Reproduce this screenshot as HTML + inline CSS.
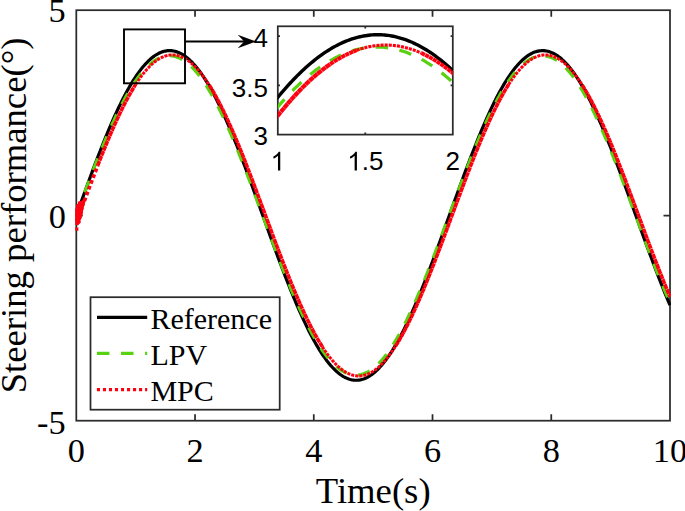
<!DOCTYPE html>
<html><head><meta charset="utf-8"><title>chart</title>
<style>
html,body{margin:0;padding:0;background:#fff;}
body{width:685px;height:511px;overflow:hidden;}
svg{display:block;}
.serif{font-family:"Liberation Serif",serif;}
.sans{font-family:"Liberation Sans",sans-serif;}
</style></head><body>
<svg width="685" height="511" viewBox="0 0 685 511">
<rect width="685" height="511" fill="#fff"/>
<defs>
<clipPath id="cm"><rect x="75.3" y="9.2" width="595.7" height="412.5"/></clipPath>
<clipPath id="ci"><rect x="277.8" y="26.3" width="175.0" height="108.3"/></clipPath>
</defs>
<!-- main axes -->
<g fill="none" stroke="#2b2b2b" stroke-width="1.75">
<rect x="76.3" y="10.2" width="593.7" height="410.5"/>
<path d="M195.04,420.7 V414.2 M195.04,10.2 V16.7"/><path d="M313.78,420.7 V414.2 M313.78,10.2 V16.7"/><path d="M432.52,420.7 V414.2 M432.52,10.2 V16.7"/><path d="M551.26,420.7 V414.2 M551.26,10.2 V16.7"/><path d="M76.3,215.70 H82.8 M670.0,215.70 H663.5"/>
</g>
<!-- main curves -->
<g fill="none" stroke-linejoin="round" clip-path="url(#cm)">
<path d="M76.30,215.45 L77.49,212.15 L78.67,208.86 L79.86,205.57 L81.05,202.28 L82.24,199.00 L83.42,195.72 L84.61,192.45 L85.80,189.19 L86.99,185.94 L88.17,182.71 L89.36,179.48 L90.55,176.27 L91.74,173.08 L92.92,169.90 L94.11,166.74 L95.30,163.60 L96.49,160.49 L97.67,157.39 L98.86,154.32 L100.05,151.27 L101.24,148.24 L102.42,145.25 L103.61,142.28 L104.80,139.34 L105.98,136.43 L107.17,133.56 L108.36,130.71 L109.55,127.90 L110.73,125.13 L111.92,122.39 L113.11,119.69 L114.30,117.02 L115.48,114.40 L116.67,111.82 L117.86,109.27 L119.05,106.77 L120.23,104.32 L121.42,101.90 L122.61,99.54 L123.80,97.22 L124.98,94.95 L126.17,92.72 L127.36,90.55 L128.55,88.42 L129.73,86.35 L130.92,84.32 L132.11,82.35 L133.30,80.43 L134.48,78.57 L135.67,76.76 L136.86,75.01 L138.04,73.31 L139.23,71.67 L140.42,70.09 L141.61,68.56 L142.79,67.10 L143.98,65.69 L145.17,64.35 L146.36,63.06 L147.54,61.84 L148.73,60.67 L149.92,59.57 L151.11,58.53 L152.29,57.55 L153.48,56.64 L154.67,55.79 L155.86,55.00 L157.04,54.28 L158.23,53.63 L159.42,53.03 L160.61,52.50 L161.79,52.04 L162.98,51.64 L164.17,51.31 L165.36,51.05 L166.54,50.85 L167.73,50.71 L168.92,50.64 L170.10,50.64 L171.29,50.70 L172.48,50.83 L173.67,51.03 L174.85,51.29 L176.04,51.62 L177.23,52.01 L178.42,52.47 L179.60,52.99 L180.79,53.58 L181.98,54.23 L183.17,54.94 L184.35,55.73 L185.54,56.57 L186.73,57.48 L187.92,58.45 L189.10,59.48 L190.29,60.58 L191.48,61.74 L192.67,62.96 L193.85,64.24 L195.04,65.58 L196.23,66.99 L197.41,68.45 L198.60,69.97 L199.79,71.54 L200.98,73.18 L202.16,74.87 L203.35,76.62 L204.54,78.42 L205.73,80.28 L206.91,82.20 L208.10,84.16 L209.29,86.18 L210.48,88.25 L211.66,90.37 L212.85,92.55 L214.04,94.77 L215.23,97.04 L216.41,99.35 L217.60,101.71 L218.79,104.12 L219.98,106.58 L221.16,109.07 L222.35,111.61 L223.54,114.19 L224.73,116.81 L225.91,119.47 L227.10,122.17 L228.29,124.91 L229.47,127.68 L230.66,130.49 L231.85,133.33 L233.04,136.20 L234.22,139.11 L235.41,142.05 L236.60,145.01 L237.79,148.01 L238.97,151.03 L240.16,154.07 L241.35,157.14 L242.54,160.24 L243.72,163.36 L244.91,166.49 L246.10,169.65 L247.29,172.83 L248.47,176.02 L249.66,179.23 L250.85,182.45 L252.04,185.68 L253.22,188.93 L254.41,192.19 L255.60,195.46 L256.78,198.73 L257.97,202.02 L259.16,205.30 L260.35,208.60 L261.53,211.89 L262.72,215.19 L263.91,218.48 L265.10,221.78 L266.28,225.07 L267.47,228.36 L268.66,231.64 L269.85,234.92 L271.03,238.19 L272.22,241.45 L273.41,244.70 L274.60,247.94 L275.78,251.16 L276.97,254.37 L278.16,257.57 L279.35,260.75 L280.53,263.91 L281.72,267.05 L282.91,270.17 L284.10,273.26 L285.28,276.34 L286.47,279.39 L287.66,282.42 L288.84,285.41 L290.03,288.38 L291.22,291.33 L292.41,294.24 L293.59,297.12 L294.78,299.96 L295.97,302.78 L297.16,305.55 L298.34,308.30 L299.53,311.00 L300.72,313.67 L301.91,316.29 L303.09,318.88 L304.28,321.43 L305.47,323.93 L306.66,326.39 L307.84,328.80 L309.03,331.17 L310.22,333.50 L311.41,335.78 L312.59,338.00 L313.78,340.18 L314.97,342.31 L316.15,344.39 L317.34,346.42 L318.53,348.39 L319.72,350.31 L320.90,352.18 L322.09,354.00 L323.28,355.75 L324.47,357.45 L325.65,359.10 L326.84,360.69 L328.03,362.22 L329.22,363.69 L330.40,365.10 L331.59,366.45 L332.78,367.74 L333.97,368.97 L335.15,370.14 L336.34,371.24 L337.53,372.29 L338.72,373.27 L339.90,374.19 L341.09,375.04 L342.28,375.84 L343.47,376.56 L344.65,377.22 L345.84,377.82 L347.03,378.36 L348.21,378.82 L349.40,379.23 L350.59,379.56 L351.78,379.83 L352.96,380.04 L354.15,380.18 L355.34,380.25 L356.53,380.26 L357.71,380.20 L358.90,380.08 L360.09,379.89 L361.28,379.63 L362.46,379.31 L363.65,378.93 L364.84,378.47 L366.03,377.96 L367.21,377.37 L368.40,376.73 L369.59,376.01 L370.78,375.24 L371.96,374.40 L373.15,373.50 L374.34,372.53 L375.52,371.50 L376.71,370.41 L377.90,369.25 L379.09,368.04 L380.27,366.76 L381.46,365.43 L382.65,364.03 L383.84,362.57 L385.02,361.06 L386.21,359.48 L387.40,357.85 L388.59,356.16 L389.77,354.42 L390.96,352.62 L392.15,350.77 L393.34,348.86 L394.52,346.90 L395.71,344.88 L396.90,342.81 L398.09,340.70 L399.27,338.53 L400.46,336.31 L401.65,334.05 L402.84,331.73 L404.02,329.38 L405.21,326.97 L406.40,324.52 L407.58,322.03 L408.77,319.49 L409.96,316.92 L411.15,314.30 L412.33,311.64 L413.52,308.94 L414.71,306.21 L415.90,303.44 L417.08,300.64 L418.27,297.80 L419.46,294.93 L420.65,292.02 L421.83,289.09 L423.02,286.13 L424.21,283.13 L425.40,280.12 L426.58,277.07 L427.77,274.00 L428.96,270.91 L430.15,267.79 L431.33,264.66 L432.52,261.50 L433.71,258.33 L434.89,255.14 L436.08,251.93 L437.27,248.71 L438.46,245.47 L439.64,242.23 L440.83,238.97 L442.02,235.70 L443.21,232.43 L444.39,229.14 L445.58,225.86 L446.77,222.57 L447.96,219.27 L449.14,215.97 L450.33,212.68 L451.52,209.38 L452.71,206.09 L453.89,202.80 L455.08,199.52 L456.27,196.24 L457.46,192.97 L458.64,189.71 L459.83,186.46 L461.02,183.22 L462.21,179.99 L463.39,176.78 L464.58,173.59 L465.77,170.41 L466.95,167.25 L468.14,164.10 L469.33,160.98 L470.52,157.88 L471.70,154.80 L472.89,151.75 L474.08,148.72 L475.27,145.72 L476.45,142.75 L477.64,139.81 L478.83,136.89 L480.02,134.01 L481.20,131.16 L482.39,128.35 L483.58,125.57 L484.77,122.82 L485.95,120.11 L487.14,117.44 L488.33,114.81 L489.52,112.22 L490.70,109.67 L491.89,107.17 L493.08,104.70 L494.26,102.29 L495.45,99.91 L496.64,97.58 L497.83,95.30 L499.01,93.07 L500.20,90.89 L501.39,88.76 L502.58,86.67 L503.76,84.64 L504.95,82.66 L506.14,80.74 L507.33,78.86 L508.51,77.05 L509.70,75.28 L510.89,73.58 L512.08,71.93 L513.26,70.34 L514.45,68.80 L515.64,67.33 L516.83,65.91 L518.01,64.56 L519.20,63.26 L520.39,62.03 L521.57,60.85 L522.76,59.74 L523.95,58.69 L525.14,57.71 L526.32,56.78 L527.51,55.92 L528.70,55.13 L529.89,54.39 L531.07,53.73 L532.26,53.12 L533.45,52.58 L534.64,52.11 L535.82,51.70 L537.01,51.36 L538.20,51.09 L539.39,50.87 L540.57,50.73 L541.76,50.65 L542.95,50.64 L544.14,50.69 L545.32,50.81 L546.51,50.99 L547.70,51.24 L548.89,51.56 L550.07,51.94 L551.26,52.39 L552.45,52.90 L553.63,53.48 L554.82,54.12 L556.01,54.83 L557.20,55.60 L558.38,56.43 L559.57,57.33 L560.76,58.29 L561.95,59.32 L563.13,60.40 L564.32,61.55 L565.51,62.76 L566.70,64.03 L567.88,65.37 L569.07,66.76 L570.26,68.21 L571.45,69.72 L572.63,71.29 L573.82,72.92 L575.01,74.60 L576.20,76.34 L577.38,78.13 L578.57,79.98 L579.76,81.89 L580.95,83.85 L582.13,85.86 L583.32,87.92 L584.51,90.03 L585.69,92.20 L586.88,94.41 L588.07,96.67 L589.26,98.98 L590.44,101.34 L591.63,103.74 L592.82,106.18 L594.01,108.67 L595.19,111.20 L596.38,113.78 L597.57,116.39 L598.76,119.05 L599.94,121.74 L601.13,124.47 L602.32,127.24 L603.51,130.04 L604.69,132.87 L605.88,135.74 L607.07,138.64 L608.26,141.58 L609.44,144.54 L610.63,147.53 L611.82,150.54 L613.00,153.59 L614.19,156.65 L615.38,159.74 L616.57,162.86 L617.75,165.99 L618.94,169.15 L620.13,172.32 L621.32,175.51 L622.50,178.71 L623.69,181.93 L624.88,185.17 L626.07,188.41 L627.25,191.67 L628.44,194.94 L629.63,198.21 L630.82,201.49 L632.00,204.78 L633.19,208.07 L634.38,211.37 L635.57,214.66 L636.75,217.96 L637.94,221.25 L639.13,224.55 L640.32,227.84 L641.50,231.12 L642.69,234.40 L643.88,237.67 L645.06,240.93 L646.25,244.18 L647.44,247.42 L648.63,250.65 L649.81,253.86 L651.00,257.06 L652.19,260.24 L653.38,263.40 L654.56,266.55 L655.75,269.67 L656.94,272.77 L658.13,275.85 L659.31,278.91 L660.50,281.94 L661.69,284.94 L662.88,287.91 L664.06,290.86 L665.25,293.77 L666.44,296.66 L667.63,299.51 L668.81,302.33 L670.00,305.11" stroke="#000" stroke-width="3.2"/>
<path d="M76.30,214.81 L77.49,211.62 L78.67,208.43 L79.86,205.24 L81.05,202.05 L82.24,198.87 L83.42,195.70 L84.61,192.53 L85.80,189.38 L86.99,186.23 L88.17,183.10 L89.36,179.98 L90.55,176.87 L91.74,173.78 L92.92,170.71 L94.11,167.65 L95.30,164.61 L96.49,161.60 L97.67,158.60 L98.86,155.63 L100.05,152.68 L101.24,149.75 L102.42,146.86 L103.61,143.99 L104.80,141.15 L105.98,138.33 L107.17,135.55 L108.36,132.80 L109.55,130.09 L110.73,127.41 L111.92,124.76 L113.11,122.15 L114.30,119.58 L115.48,117.04 L116.67,114.55 L117.86,112.09 L119.05,109.68 L120.23,107.31 L121.42,104.98 L122.61,102.69 L123.80,100.46 L124.98,98.26 L126.17,96.12 L127.36,94.02 L128.55,91.97 L129.73,89.97 L130.92,88.02 L132.11,86.12 L133.30,84.27 L134.48,82.48 L135.67,80.74 L136.86,79.05 L138.04,77.42 L139.23,75.84 L140.42,74.32 L141.61,72.85 L142.79,71.44 L143.98,70.09 L145.17,68.80 L146.36,67.56 L147.54,66.39 L148.73,65.27 L149.92,64.22 L151.11,63.22 L152.29,62.29 L153.48,61.42 L154.67,60.60 L155.86,59.85 L157.04,59.17 L158.23,58.54 L159.42,57.98 L160.61,57.48 L161.79,57.05 L162.98,56.68 L164.17,56.37 L165.36,56.12 L166.54,55.94 L167.73,55.82 L168.92,55.77 L170.10,55.78 L171.29,55.85 L172.48,55.99 L173.67,56.19 L174.85,56.46 L176.04,56.79 L177.23,57.18 L178.42,57.64 L179.60,58.15 L180.79,58.74 L181.98,59.38 L183.17,60.09 L184.35,60.86 L185.54,61.69 L186.73,62.58 L187.92,63.53 L189.10,64.55 L190.29,65.62 L191.48,66.76 L192.67,67.95 L193.85,69.20 L195.04,70.52 L196.23,71.89 L197.41,73.31 L198.60,74.80 L199.79,76.34 L200.98,77.93 L202.16,79.58 L203.35,81.29 L204.54,83.05 L205.73,84.86 L206.91,86.72 L208.10,88.64 L209.29,90.60 L210.48,92.62 L211.66,94.69 L212.85,96.80 L214.04,98.96 L215.23,101.17 L216.41,103.42 L217.60,105.72 L218.79,108.06 L219.98,110.45 L221.16,112.87 L222.35,115.34 L223.54,117.85 L224.73,120.40 L225.91,122.98 L227.10,125.60 L228.29,128.26 L229.47,130.95 L230.66,133.68 L231.85,136.44 L233.04,139.23 L234.22,142.05 L235.41,144.90 L236.60,147.78 L237.79,150.69 L238.97,153.62 L240.16,156.58 L241.35,159.56 L242.54,162.56 L243.72,165.58 L244.91,168.63 L246.10,171.69 L247.29,174.77 L248.47,177.87 L249.66,180.98 L250.85,184.10 L252.04,187.24 L253.22,190.39 L254.41,193.55 L255.60,196.72 L256.78,199.89 L257.97,203.07 L259.16,206.26 L260.35,209.45 L261.53,212.64 L262.72,215.83 L263.91,219.03 L265.10,222.22 L266.28,225.41 L267.47,228.59 L268.66,231.77 L269.85,234.95 L271.03,238.11 L272.22,241.27 L273.41,244.42 L274.60,247.55 L275.78,250.67 L276.97,253.78 L278.16,256.87 L279.35,259.95 L280.53,263.01 L281.72,266.05 L282.91,269.06 L284.10,272.06 L285.28,275.04 L286.47,277.99 L287.66,280.91 L288.84,283.81 L290.03,286.69 L291.22,289.53 L292.41,292.34 L293.59,295.13 L294.78,297.88 L295.97,300.60 L297.16,303.28 L298.34,305.93 L299.53,308.54 L300.72,311.12 L301.91,313.66 L303.09,316.16 L304.28,318.62 L305.47,321.03 L306.66,323.41 L307.84,325.74 L309.03,328.03 L310.22,330.27 L311.41,332.46 L312.59,334.61 L313.78,336.72 L314.97,338.77 L316.15,340.77 L317.34,342.73 L318.53,344.63 L319.72,346.48 L320.90,348.28 L322.09,350.03 L323.28,351.72 L324.47,353.36 L325.65,354.94 L326.84,356.47 L328.03,357.94 L329.22,359.35 L330.40,360.70 L331.59,362.00 L332.78,363.24 L333.97,364.42 L335.15,365.54 L336.34,366.60 L337.53,367.60 L338.72,368.54 L339.90,369.42 L341.09,370.23 L342.28,370.99 L343.47,371.68 L344.65,372.31 L345.84,372.88 L347.03,373.38 L348.21,373.82 L349.40,374.20 L350.59,374.51 L351.78,374.76 L352.96,374.95 L354.15,375.07 L355.34,375.13 L356.53,375.12 L357.71,375.05 L358.90,374.92 L360.09,374.73 L361.28,374.46 L362.46,374.14 L363.65,373.75 L364.84,373.30 L366.03,372.79 L367.21,372.21 L368.40,371.57 L369.59,370.87 L370.78,370.11 L371.96,369.28 L373.15,368.39 L374.34,367.44 L375.52,366.43 L376.71,365.36 L377.90,364.24 L379.09,363.05 L380.27,361.80 L381.46,360.49 L382.65,359.13 L383.84,357.70 L385.02,356.22 L386.21,354.69 L387.40,353.10 L388.59,351.45 L389.77,349.75 L390.96,348.00 L392.15,346.19 L393.34,344.33 L394.52,342.42 L395.71,340.45 L396.90,338.44 L398.09,336.38 L399.27,334.27 L400.46,332.11 L401.65,329.91 L402.84,327.66 L404.02,325.37 L405.21,323.03 L406.40,320.65 L407.58,318.22 L408.77,315.76 L409.96,313.25 L411.15,310.71 L412.33,308.13 L413.52,305.51 L414.71,302.85 L415.90,300.16 L417.08,297.44 L418.27,294.68 L419.46,291.89 L420.65,289.07 L421.83,286.23 L423.02,283.35 L424.21,280.44 L425.40,277.51 L426.58,274.56 L427.77,271.58 L428.96,268.58 L430.15,265.56 L431.33,262.52 L432.52,259.45 L433.71,256.38 L434.89,253.28 L436.08,250.17 L437.27,247.05 L438.46,243.91 L439.64,240.76 L440.83,237.60 L442.02,234.44 L443.21,231.26 L444.39,228.08 L445.58,224.90 L446.77,221.71 L447.96,218.51 L449.14,215.32 L450.33,212.13 L451.52,208.93 L452.71,205.74 L453.89,202.56 L455.08,199.38 L456.27,196.20 L457.46,193.04 L458.64,189.88 L459.83,186.73 L461.02,183.60 L462.21,180.48 L463.39,177.37 L464.58,174.27 L465.77,171.20 L466.95,168.14 L468.14,165.10 L469.33,162.07 L470.52,159.08 L471.70,156.10 L472.89,153.15 L474.08,150.22 L475.27,147.32 L476.45,144.44 L477.64,141.60 L478.83,138.78 L480.02,135.99 L481.20,133.24 L482.39,130.52 L483.58,127.83 L484.77,125.18 L485.95,122.56 L487.14,119.98 L488.33,117.44 L489.52,114.94 L490.70,112.48 L491.89,110.06 L493.08,107.68 L494.26,105.35 L495.45,103.05 L496.64,100.81 L497.83,98.61 L499.01,96.46 L500.20,94.35 L501.39,92.29 L502.58,90.28 L503.76,88.33 L504.95,86.42 L506.14,84.56 L507.33,82.76 L508.51,81.01 L509.70,79.31 L510.89,77.67 L512.08,76.08 L513.26,74.55 L514.45,73.08 L515.64,71.66 L516.83,70.30 L518.01,69.00 L519.20,67.76 L520.39,66.57 L521.57,65.45 L522.76,64.38 L523.95,63.38 L525.14,62.43 L526.32,61.55 L527.51,60.73 L528.70,59.97 L529.89,59.27 L531.07,58.64 L532.26,58.07 L533.45,57.56 L534.64,57.11 L535.82,56.73 L537.01,56.41 L538.20,56.16 L539.39,55.96 L540.57,55.84 L541.76,55.77 L542.95,55.77 L544.14,55.84 L545.32,55.97 L546.51,56.16 L547.70,56.41 L548.89,56.73 L550.07,57.11 L551.26,57.56 L552.45,58.07 L553.63,58.64 L554.82,59.27 L556.01,59.97 L557.20,60.73 L558.38,61.55 L559.57,62.43 L560.76,63.38 L561.95,64.38 L563.13,65.45 L564.32,66.57 L565.51,67.76 L566.70,69.00 L567.88,70.30 L569.07,71.66 L570.26,73.08 L571.45,74.56 L572.63,76.09 L573.82,77.67 L575.01,79.32 L576.20,81.01 L577.38,82.76 L578.57,84.57 L579.76,86.42 L580.95,88.33 L582.13,90.29 L583.32,92.30 L584.51,94.35 L585.69,96.46 L586.88,98.61 L588.07,100.81 L589.26,103.06 L590.44,105.35 L591.63,107.68 L592.82,110.06 L594.01,112.48 L595.19,114.94 L596.38,117.45 L597.57,119.99 L598.76,122.57 L599.94,125.18 L601.13,127.84 L602.32,130.52 L603.51,133.24 L604.69,136.00 L605.88,138.78 L607.07,141.60 L608.26,144.45 L609.44,147.32 L610.63,150.22 L611.82,153.15 L613.00,156.10 L614.19,159.08 L615.38,162.08 L616.57,165.10 L617.75,168.14 L618.94,171.20 L620.13,174.28 L621.32,177.37 L622.50,180.48 L623.69,183.60 L624.88,186.74 L626.07,189.89 L627.25,193.04 L628.44,196.21 L629.63,199.38 L630.82,202.57 L632.00,205.75 L633.19,208.94 L634.38,212.13 L635.57,215.33 L636.75,218.52 L637.94,221.71 L639.13,224.90 L640.32,228.09 L641.50,231.27 L642.69,234.44 L643.88,237.61 L645.06,240.77 L646.25,243.92 L647.44,247.05 L648.63,250.18 L649.81,253.29 L651.00,256.38 L652.19,259.46 L653.38,262.52 L654.56,265.56 L655.75,268.59 L656.94,271.59 L658.13,274.56 L659.31,277.52 L660.50,280.45 L661.69,283.35 L662.88,286.23 L664.06,289.08 L665.25,291.90 L666.44,294.69 L667.63,297.44 L668.81,300.17 L670.00,302.86" stroke="#58d110" stroke-width="3.2" stroke-dasharray="12.43 11.52"/>
<path d="M75,225 L74.8,210 L76.3,205.5 L79.5,202 L83,200 L85.5,201.5 L83.6,208 L82.6,214 L80.4,221 L78.3,225.3 Z" fill="#ff0010" stroke="none"/>
<path d="M76.20,224.00 L79.00,222.00 L76.20,219.50 L80.00,217.50 L76.20,215.00 L81.00,213.00 L76.30,210.50 L82.00,208.50 L77.50,206.00 L83.00,204.50 L79.50,203.00 L84.00,201.80" stroke="#ff0010" stroke-width="3.4"/>
<path d="M76.5,227.4 V230.8" stroke="#ff0010" stroke-width="3.8"/>
<path d="M84.31,201.02 L84.78,199.78 L85.24,198.55 L85.70,197.31 L86.16,196.07 L86.62,194.84 L87.08,193.60 L87.54,192.37 L88.00,191.14 L88.46,189.91 L88.92,188.68 L89.38,187.45 L89.84,186.22 L90.30,185.00 L90.76,183.78 L91.22,182.56 L91.69,181.34 L92.15,180.13 L92.61,178.91 L93.07,177.70 L93.53,176.49 L93.99,175.28 L94.45,174.08 L94.91,172.88 L95.37,171.68 L95.83,170.48 L96.29,169.29 L96.75,168.10 L97.21,166.91 L97.67,165.72" stroke="#ff0010" stroke-width="3.7" stroke-dasharray="3.7 2.5"/>
<path d="M97.67,165.72 L97.97,164.96 L98.27,164.20 L98.56,163.44 L98.86,162.68 L99.16,161.93 L99.45,161.17 L99.75,160.42 L100.05,159.66 L100.34,158.91 L100.64,158.16 L100.94,157.41 L101.23,156.67 L101.53,155.92 L101.83,155.18 L102.12,154.43 L102.42,153.69 L102.72,152.95 L103.01,152.21 L103.31,151.48 L103.61,150.74 L103.90,150.01 L104.20,149.28 L104.50,148.55 L104.79,147.82 L105.09,147.09 L105.39,146.37 L105.68,145.65 L105.98,144.92 L106.28,144.20 L106.57,143.49 L106.87,142.77 L107.17,142.06 L107.46,141.34 L107.76,140.63 L108.06,139.92 L108.35,139.22 L108.65,138.51 L108.95,137.81 L109.24,137.11 L109.54,136.41 L109.84,135.71 L110.13,135.02 L110.43,134.32 L110.73,133.63 L111.02,132.94 L111.32,132.26 L111.62,131.57 L111.91,130.89 L112.21,130.21 L112.51,129.53 L112.80,128.85 L113.10,128.18 L113.40,127.51 L113.69,126.84 L113.99,126.17 L114.29,125.50 L114.58,124.84 L114.88,124.18 L115.18,123.52 L115.47,122.87 L115.77,122.21 L116.07,121.56 L116.37,120.91 L116.66,120.26 L116.96,119.62 L117.26,118.98 L117.55,118.34 L117.85,117.70 L118.15,117.06 L118.44,116.43 L118.74,115.80 L119.04,115.17 L119.33,114.55 L119.63,113.93 L119.93,113.31 L120.22,112.69 L120.52,112.07 L120.82,111.46 L121.11,110.85 L121.41,110.24 L121.71,109.64 L122.00,109.04 L122.30,108.44 L122.60,107.84 L122.89,107.25 L123.19,106.66 L123.49,106.07 L123.78,105.48 L124.08,104.90 L124.38,104.32 L124.67,103.74 L124.97,103.17 L125.27,102.60 L125.56,102.03 L125.86,101.46 L126.16,100.90 L126.45,100.34 L126.75,99.78 L127.05,99.23 L127.34,98.67 L127.64,98.13 L127.94,97.58 L128.23,97.04 L128.53,96.50 L128.83,95.96 L129.12,95.43 L129.42,94.89 L129.72,94.37 L130.01,93.84 L130.31,93.32 L130.61,92.80 L130.90,92.28 L131.20,91.77 L131.50,91.26 L131.79,90.76 L132.09,90.25 L132.39,89.75 L132.68,89.25 L132.98,88.76 L133.28,88.27 L133.57,87.78 L133.87,87.30 L134.17,86.82 L134.46,86.34 L134.76,85.86 L135.06,85.39 L135.35,84.92 L135.65,84.46 M209.23,85.12 L209.53,85.59 L209.82,86.06 L210.12,86.54 L210.42,87.02 L210.71,87.50 L211.01,87.99 L211.31,88.48 L211.60,88.97 L211.90,89.46 L212.20,89.96 L212.49,90.46 L212.79,90.97 L213.09,91.48 L213.38,91.99 L213.68,92.50 L213.98,93.02 L214.27,93.54 L214.57,94.06 L214.87,94.59 L215.16,95.12 L215.46,95.65 L215.76,96.19 L216.05,96.72 L216.35,97.27 L216.65,97.81 L216.95,98.36 L217.24,98.91 L217.54,99.46 L217.84,100.02 L218.13,100.57 L218.43,101.14 L218.73,101.70 L219.02,102.27 L219.32,102.84 L219.62,103.41 L219.91,103.99 L220.21,104.56 L220.51,105.15 L220.80,105.73 L221.10,106.32 L221.40,106.91 L221.69,107.50 L221.99,108.09 L222.29,108.69 L222.58,109.29 L222.88,109.89 L223.18,110.50 L223.47,111.11 L223.77,111.72 L224.07,112.33 L224.36,112.95 L224.66,113.57 L224.96,114.19 L225.25,114.81 L225.55,115.44 L225.85,116.07 L226.14,116.70 L226.44,117.33 L226.74,117.97 L227.03,118.61 L227.33,119.25 L227.63,119.89 L227.92,120.54 L228.22,121.18 L228.52,121.83 L228.81,122.49 L229.11,123.14 L229.41,123.80 L229.70,124.46 L230.00,125.12 L230.30,125.78 L230.59,126.45 L230.89,127.12 L231.19,127.79 L231.48,128.46 L231.78,129.14 L232.08,129.82 L232.37,130.50 L232.67,131.18 L232.97,131.86 L233.26,132.55 L233.56,133.23 L233.86,133.92 L234.15,134.62 L234.45,135.31 L234.75,136.01 L235.04,136.70 L235.34,137.40 L235.64,138.11 L235.93,138.81 L236.23,139.52 L236.53,140.22 L236.82,140.93 L237.12,141.64 L237.42,142.36 L237.71,143.07 L238.01,143.79 L238.31,144.51 L238.60,145.23 L238.90,145.95 L239.20,146.67 L239.49,147.40 L239.79,148.13 L240.09,148.86 L240.38,149.59 L240.68,150.32 L240.98,151.05 L241.27,151.79 L241.57,152.53 L241.87,153.26 L242.16,154.00 L242.46,154.75 L242.76,155.49 L243.05,156.23 L243.35,156.98 L243.65,157.73 L243.94,158.48 L244.24,159.23 L244.54,159.98 L244.83,160.73 L245.13,161.49 L245.43,162.24 L245.72,163.00 L246.02,163.76 L246.32,164.52 L246.61,165.28 L246.91,166.04 L247.21,166.81 L247.50,167.57 L247.80,168.34 L248.10,169.11 L248.39,169.87 L248.69,170.64 L248.99,171.42 L249.28,172.19 L249.58,172.96 L249.88,173.73 L250.18,174.51 L250.47,175.29 L250.77,176.06 L251.07,176.84 L251.36,177.62 L251.66,178.40 L251.96,179.18 L252.25,179.96 L252.55,180.74 L252.85,181.53 L253.14,182.31 L253.44,183.10 L253.74,183.88 L254.03,184.67 L254.33,185.46 L254.63,186.25 L254.92,187.04 L255.22,187.83 L255.52,188.62 L255.81,189.41 L256.11,190.20 L256.41,190.99 L256.70,191.78 L257.00,192.58 L257.30,193.37 L257.59,194.17 L257.89,194.96 L258.19,195.76 L258.48,196.55 L258.78,197.35 L259.08,198.15 L259.37,198.95 L259.67,199.74 L259.97,200.54 L260.26,201.34 L260.56,202.14 L260.86,202.94 L261.15,203.74 L261.45,204.54 L261.75,205.34 L262.04,206.14 L262.34,206.94 L262.64,207.74 L262.93,208.54 L263.23,209.35 L263.53,210.15 L263.82,210.95 L264.12,211.75 L264.42,212.55 L264.71,213.36 L265.01,214.16 L265.31,214.96 L265.60,215.76 L265.90,216.56 L266.20,217.37 L266.49,218.17 L266.79,218.97 L267.09,219.77 L267.38,220.57 L267.68,221.37 L267.98,222.18 L268.27,222.98 L268.57,223.78 L268.87,224.58 L269.16,225.38 L269.46,226.18 L269.76,226.98 L270.05,227.78 L270.35,228.58 L270.65,229.38 L270.94,230.18 L271.24,230.98 L271.54,231.78 L271.83,232.57 L272.13,233.37 L272.43,234.17 L272.72,234.96 L273.02,235.76 L273.32,236.56 L273.61,237.35 L273.91,238.14 L274.21,238.94 L274.50,239.73 L274.80,240.52 L275.10,241.32 L275.39,242.11 L275.69,242.90 L275.99,243.69 L276.28,244.48 L276.58,245.27 L276.88,246.05 L277.17,246.84 L277.47,247.63 L277.77,248.41 L278.06,249.20 L278.36,249.98 L278.66,250.76 L278.95,251.55 L279.25,252.33 L279.55,253.11 L279.84,253.89 L280.14,254.66 L280.44,255.44 L280.73,256.22 L281.03,256.99 L281.33,257.77 L281.62,258.54 L281.92,259.31 L282.22,260.08 L282.51,260.85 L282.81,261.62 L283.11,262.39 L283.40,263.16 L283.70,263.92 L284.00,264.69 L284.30,265.45 L284.59,266.21 L284.89,266.97 L285.19,267.73 L285.48,268.49 L285.78,269.24 L286.08,270.00 L286.37,270.75 L286.67,271.50 L286.97,272.26 L287.26,273.00 L287.56,273.75 L287.86,274.50 L288.15,275.24 L288.45,275.99 L288.75,276.73 L289.04,277.47 L289.34,278.21 L289.64,278.95 L289.93,279.68 L290.23,280.42 L290.53,281.15 L290.82,281.88 L291.12,282.61 L291.42,283.34 L291.71,284.06 L292.01,284.79 L292.31,285.51 L292.60,286.23 L292.90,286.95 L293.20,287.67 L293.49,288.38 L293.79,289.10 L294.09,289.81 L294.38,290.52 L294.68,291.23 L294.98,291.93 L295.27,292.64 L295.57,293.34 L295.87,294.04 L296.16,294.74 L296.46,295.43 L296.76,296.13 L297.05,296.82 L297.35,297.51 L297.65,298.20 L297.94,298.89 L298.24,299.57 L298.54,300.25 L298.83,300.93 L299.13,301.61 L299.43,302.29 L299.72,302.96 L300.02,303.63 L300.32,304.30 L300.61,304.97 L300.91,305.63 L301.21,306.29 L301.50,306.95 L301.80,307.61 L302.10,308.27 L302.39,308.92 L302.69,309.57 L302.99,310.22 L303.28,310.87 L303.58,311.51 L303.88,312.15 L304.17,312.79 L304.47,313.43 L304.77,314.06 L305.06,314.69 L305.36,315.32 L305.66,315.95 L305.95,316.57 L306.25,317.19 L306.55,317.81 L306.84,318.43 L307.14,319.04 L307.44,319.66 L307.73,320.26 L308.03,320.87 L308.33,321.47 L308.62,322.07 L308.92,322.67 L309.22,323.27 L309.51,323.86 L309.81,324.45 L310.11,325.04 L310.40,325.62 L310.70,326.21 L311.00,326.78 L311.29,327.36 L311.59,327.93 L311.89,328.51 L312.18,329.07 L312.48,329.64 L312.78,330.20 L313.07,330.76 L313.37,331.32 L313.67,331.87 L313.96,332.42 L314.26,332.97 L314.56,333.51 L314.85,334.06 L315.15,334.59 L315.45,335.13 L315.74,335.66 L316.04,336.19 L316.34,336.72 L316.63,337.24 L316.93,337.77 L317.23,338.28 L317.53,338.80 L317.82,339.31 L318.12,339.82 L318.42,340.32 L318.71,340.83 L319.01,341.33 L319.31,341.82 L319.60,342.31 L319.90,342.80 L320.20,343.29 L320.49,343.77 L320.79,344.25 L321.09,344.73 L321.38,345.20 L321.68,345.68 L321.98,346.14 L322.27,346.61 M395.56,346.08 L395.85,345.61 L396.15,345.14 L396.45,344.67 L396.74,344.19 L397.04,343.71 L397.34,343.23 L397.63,342.74 L397.93,342.25 L398.23,341.76 L398.52,341.26 L398.82,340.76 L399.12,340.26 L399.41,339.75 L399.71,339.24 L400.01,338.73 L400.30,338.21 L400.60,337.70 L400.90,337.18 L401.19,336.65 L401.49,336.12 L401.79,335.59 L402.08,335.06 L402.38,334.52 L402.68,333.98 L402.97,333.44 L403.27,332.90 L403.57,332.35 L403.86,331.80 L404.16,331.24 L404.46,330.69 L404.75,330.13 L405.05,329.56 L405.35,329.00 L405.64,328.43 L405.94,327.86 L406.24,327.29 L406.53,326.71 L406.83,326.13 L407.13,325.55 L407.42,324.96 L407.72,324.37 L408.02,323.78 L408.31,323.19 L408.61,322.59 L408.91,322.00 L409.20,321.39 L409.50,320.79 L409.80,320.18 L410.09,319.57 L410.39,318.96 L410.69,318.35 L410.98,317.73 L411.28,317.11 L411.58,316.49 L411.87,315.87 L412.17,315.24 L412.47,314.61 L412.76,313.98 L413.06,313.34 L413.36,312.71 L413.65,312.07 L413.95,311.43 L414.25,310.78 L414.54,310.13 L414.84,309.49 L415.14,308.83 L415.43,308.18 L415.73,307.53 L416.03,306.87 L416.32,306.21 L416.62,305.54 L416.92,304.88 L417.21,304.21 L417.51,303.54 L417.81,302.87 L418.11,302.20 L418.40,301.52 L418.70,300.84 L419.00,300.16 L419.29,299.48 L419.59,298.80 L419.89,298.11 L420.18,297.42 L420.48,296.73 L420.78,296.04 L421.07,295.34 L421.37,294.65 L421.67,293.95 L421.96,293.25 L422.26,292.54 L422.56,291.84 L422.85,291.13 L423.15,290.43 L423.45,289.71 L423.74,289.00 L424.04,288.29 L424.34,287.57 L424.63,286.86 L424.93,286.14 L425.23,285.42 L425.52,284.69 L425.82,283.97 L426.12,283.24 L426.41,282.51 L426.71,281.78 L427.01,281.05 L427.30,280.32 L427.60,279.59 L427.90,278.85 L428.19,278.11 L428.49,277.37 L428.79,276.63 L429.08,275.89 L429.38,275.15 L429.68,274.40 L429.97,273.65 L430.27,272.91 L430.57,272.16 L430.86,271.41 L431.16,270.65 L431.46,269.90 L431.75,269.14 L432.05,268.39 L432.35,267.63 L432.64,266.87 L432.94,266.11 L433.24,265.35 L433.53,264.58 L433.83,263.82 L434.13,263.06 L434.42,262.29 L434.72,261.52 L435.02,260.75 L435.31,259.98 L435.61,259.21 L435.91,258.44 L436.20,257.66 L436.50,256.89 L436.80,256.12 L437.09,255.34 L437.39,254.56 L437.69,253.78 L437.98,253.00 L438.28,252.22 L438.58,251.44 L438.87,250.66 L439.17,249.88 L439.47,249.09 L439.76,248.31 L440.06,247.52 L440.36,246.74 L440.65,245.95 L440.95,245.16 L441.25,244.37 L441.54,243.58 L441.84,242.79 L442.14,242.00 L442.43,241.21 L442.73,240.42 L443.03,239.63 L443.32,238.83 L443.62,238.04 L443.92,237.24 L444.21,236.45 L444.51,235.65 L444.81,234.86 L445.10,234.06 L445.40,233.27 L445.70,232.47 L445.99,231.67 L446.29,230.87 L446.59,230.07 L446.88,229.27 L447.18,228.47 L447.48,227.68 L447.77,226.88 L448.07,226.08 L448.37,225.27 L448.66,224.47 L448.96,223.67 L449.26,222.87 L449.55,222.07 L449.85,221.27 L450.15,220.47 L450.44,219.67 L450.74,218.86 L451.04,218.06 L451.33,217.26 L451.63,216.46 L451.93,215.66 L452.23,214.85 L452.52,214.05 L452.82,213.25 L453.12,212.45 L453.41,211.65 L453.71,210.84 L454.01,210.04 L454.30,209.24 L454.60,208.44 L454.90,207.64 L455.19,206.84 L455.49,206.04 L455.79,205.23 L456.08,204.43 L456.38,203.63 L456.68,202.83 L456.97,202.04 L457.27,201.24 L457.57,200.44 L457.86,199.64 L458.16,198.84 L458.46,198.04 L458.75,197.25 L459.05,196.45 L459.35,195.65 L459.64,194.86 L459.94,194.06 L460.24,193.27 L460.53,192.47 L460.83,191.68 L461.13,190.89 L461.42,190.09 L461.72,189.30 L462.02,188.51 L462.31,187.72 L462.61,186.93 L462.91,186.14 L463.20,185.35 L463.50,184.57 L463.80,183.78 L464.09,182.99 L464.39,182.21 L464.69,181.42 L464.98,180.64 L465.28,179.86 L465.58,179.08 L465.87,178.30 L466.17,177.52 L466.47,176.74 L466.76,175.96 L467.06,175.18 L467.36,174.41 L467.65,173.63 L467.95,172.86 L468.25,172.09 L468.54,171.31 L468.84,170.54 L469.14,169.77 L469.43,169.00 L469.73,168.24 L470.03,167.47 L470.32,166.71 L470.62,165.94 L470.92,165.18 L471.21,164.42 L471.51,163.66 L471.81,162.90 L472.10,162.14 L472.40,161.39 L472.70,160.63 L472.99,159.88 L473.29,159.13 L473.59,158.38 L473.88,157.63 L474.18,156.88 L474.48,156.14 L474.77,155.39 L475.07,154.65 L475.37,153.91 L475.66,153.17 L475.96,152.43 L476.26,151.69 L476.55,150.96 L476.85,150.22 L477.15,149.49 L477.44,148.76 L477.74,148.03 L478.04,147.30 L478.33,146.58 L478.63,145.85 L478.93,145.13 L479.22,144.41 L479.52,143.69 L479.82,142.98 L480.11,142.26 L480.41,141.55 L480.71,140.84 L481.00,140.13 L481.30,139.42 L481.60,138.72 L481.89,138.01 L482.19,137.31 L482.49,136.61 L482.78,135.91 L483.08,135.22 L483.38,134.52 L483.67,133.83 L483.97,133.14 L484.27,132.46 L484.56,131.77 L484.86,131.09 L485.16,130.41 L485.46,129.73 L485.75,129.05 L486.05,128.37 L486.35,127.70 L486.64,127.03 L486.94,126.36 L487.24,125.70 L487.53,125.03 L487.83,124.37 L488.13,123.71 L488.42,123.05 L488.72,122.40 L489.02,121.75 L489.31,121.10 L489.61,120.45 L489.91,119.80 L490.20,119.16 L490.50,118.52 L490.80,117.88 L491.09,117.25 L491.39,116.61 L491.69,115.98 L491.98,115.35 L492.28,114.73 L492.58,114.11 L492.87,113.49 L493.17,112.87 L493.47,112.25 L493.76,111.64 L494.06,111.03 L494.36,110.42 L494.65,109.81 L494.95,109.21 L495.25,108.61 L495.54,108.02 L495.84,107.42 L496.14,106.83 L496.43,106.24 L496.73,105.65 L497.03,105.07 L497.32,104.49 L497.62,103.91 L497.92,103.33 L498.21,102.76 L498.51,102.19 L498.81,101.63 L499.10,101.06 L499.40,100.50 L499.70,99.94 L499.99,99.39 L500.29,98.83 L500.59,98.28 L500.88,97.74 L501.18,97.19 L501.48,96.65 L501.77,96.11 L502.07,95.58 L502.37,95.05 L502.66,94.52 L502.96,93.99 L503.26,93.47 L503.55,92.95 L503.85,92.43 L504.15,91.92 L504.44,91.41 L504.74,90.90 L505.04,90.40 L505.33,89.90 L505.63,89.40 L505.93,88.90 L506.22,88.41 L506.52,87.92 L506.82,87.44 L507.11,86.95 L507.41,86.48 L507.71,86.00 L508.00,85.53 L508.30,85.06 L508.60,84.59 M582.18,84.98 L582.47,85.45 L582.77,85.93 L583.07,86.40 L583.36,86.88 L583.66,87.36 L583.96,87.85 L584.25,88.33 L584.55,88.83 L584.85,89.32 L585.14,89.82 L585.44,90.32 L585.74,90.82 L586.04,91.33 L586.33,91.84 L586.63,92.35 L586.93,92.87 L587.22,93.39 L587.52,93.91 L587.82,94.44 L588.11,94.96 L588.41,95.50 L588.71,96.03 L589.00,96.57 L589.30,97.11 L589.60,97.65 L589.89,98.20 L590.19,98.75 L590.49,99.30 L590.78,99.85 L591.08,100.41 L591.38,100.97 L591.67,101.54 L591.97,102.10 L592.27,102.67 L592.56,103.24 L592.86,103.82 L593.16,104.40 L593.45,104.98 L593.75,105.56 L594.05,106.15 L594.34,106.74 L594.64,107.33 L594.94,107.92 L595.23,108.52 L595.53,109.12 L595.83,109.72 L596.12,110.32 L596.42,110.93 L596.72,111.54 L597.01,112.16 L597.31,112.77 L597.61,113.39 L597.90,114.01 L598.20,114.63 L598.50,115.26 L598.79,115.88 L599.09,116.51 L599.39,117.15 L599.68,117.78 L599.98,118.42 L600.28,119.06 L600.57,119.70 L600.87,120.35 L601.17,121.00 L601.46,121.65 L601.76,122.30 L602.06,122.95 L602.35,123.61 L602.65,124.27 L602.95,124.93 L603.24,125.59 L603.54,126.26 L603.84,126.93 L604.13,127.60 L604.43,128.27 L604.73,128.94 L605.02,129.62 L605.32,130.30 L605.62,130.98 L605.91,131.66 L606.21,132.35 L606.51,133.04 L606.80,133.72 L607.10,134.42 L607.40,135.11 L607.69,135.80 L607.99,136.50 L608.29,137.20 L608.58,137.90 L608.88,138.61 L609.18,139.31 L609.47,140.02 L609.77,140.73 L610.07,141.44 L610.36,142.15 L610.66,142.87 L610.96,143.58 L611.25,144.30 L611.55,145.02 L611.85,145.74 L612.14,146.46 L612.44,147.19 L612.74,147.92 L613.03,148.64 L613.33,149.38 L613.63,150.11 L613.92,150.84 L614.22,151.58 L614.52,152.31 L614.81,153.05 L615.11,153.79 L615.41,154.53 L615.70,155.27 L616.00,156.02 L616.30,156.76 L616.59,157.51 L616.89,158.26 L617.19,159.01 L617.48,159.76 L617.78,160.52 L618.08,161.27 L618.37,162.03 L618.67,162.78 L618.97,163.54 L619.26,164.30 L619.56,165.06 L619.86,165.82 L620.16,166.59 L620.45,167.35 L620.75,168.12 L621.05,168.88 L621.34,169.65 L621.64,170.42 L621.94,171.19 L622.23,171.96 L622.53,172.74 L622.83,173.51 L623.12,174.29 L623.42,175.06 L623.72,175.84 L624.01,176.62 L624.31,177.39 L624.61,178.17 L624.90,178.95 L625.20,179.74 L625.50,180.52 L625.79,181.30 L626.09,182.09 L626.39,182.87 L626.68,183.66 L626.98,184.44 L627.28,185.23 L627.57,186.02 L627.87,186.81 L628.17,187.60 L628.46,188.39 L628.76,189.18 L629.06,189.97 L629.35,190.76 L629.65,191.56 L629.95,192.35 L630.24,193.14 L630.54,193.94 L630.84,194.73 L631.13,195.53 L631.43,196.32 L631.73,197.12 L632.02,197.92 L632.32,198.72 L632.62,199.51 L632.91,200.31 L633.21,201.11 L633.51,201.91 L633.80,202.71 L634.10,203.51 L634.40,204.31 L634.69,205.11 L634.99,205.91 L635.29,206.71 L635.58,207.51 L635.88,208.31 L636.18,209.11 L636.47,209.92 L636.77,210.72 L637.07,211.52 L637.36,212.32 L637.66,213.12 L637.96,213.93 L638.25,214.73 L638.55,215.53 L638.85,216.33 L639.14,217.13 L639.44,217.94 L639.74,218.74 L640.03,219.54 L640.33,220.34 L640.63,221.14 L640.92,221.94 L641.22,222.75 L641.52,223.55 L641.81,224.35 L642.11,225.15 L642.41,225.95 L642.70,226.75 L643.00,227.55 L643.30,228.35 L643.59,229.15 L643.89,229.95 L644.19,230.75 L644.48,231.54 L644.78,232.34 L645.08,233.14 L645.37,233.94 L645.67,234.73 L645.97,235.53 L646.26,236.33 L646.56,237.12 L646.86,237.91 L647.15,238.71 L647.45,239.50 L647.75,240.29 L648.04,241.09 L648.34,241.88 L648.64,242.67 L648.93,243.46 L649.23,244.25 L649.53,245.04 L649.82,245.83 L650.12,246.61 L650.42,247.40 L650.71,248.19 L651.01,248.97 L651.31,249.75 L651.60,250.54 L651.90,251.32 L652.20,252.10 L652.49,252.88 L652.79,253.66 L653.09,254.44 L653.39,255.22 L653.68,255.99 L653.98,256.77 L654.28,257.54 L654.57,258.32 L654.87,259.09 L655.17,259.86 L655.46,260.63 L655.76,261.40 L656.06,262.17 L656.35,262.93 L656.65,263.70 L656.95,264.46 L657.24,265.23 L657.54,265.99 L657.84,266.75 L658.13,267.51 L658.43,268.27 L658.73,269.03 L659.02,269.78 L659.32,270.53 L659.62,271.29 L659.91,272.04 L660.21,272.79 L660.51,273.54 L660.80,274.28 L661.10,275.03 L661.40,275.77 L661.69,276.52 L661.99,277.26 L662.29,278.00 L662.58,278.73 L662.88,279.47 L663.18,280.21 L663.47,280.94 L663.77,281.67 L664.07,282.40 L664.36,283.13 L664.66,283.85 L664.96,284.58 L665.25,285.30 L665.55,286.02 L665.85,286.74 L666.14,287.46 L666.44,288.18 L666.74,288.89 L667.03,289.60 L667.33,290.31 L667.63,291.02 L667.92,291.73 L668.22,292.43 L668.52,293.14 L668.81,293.84 L669.11,294.54 L669.41,295.23 L669.70,295.93 L670.00,296.62" stroke="#ff0010" stroke-width="3.6" stroke-dasharray="5 0.4"/>
<path d="M135.65,84.46 L135.95,84.00 L136.24,83.54 L136.54,83.08 L136.84,82.63 L137.13,82.18 L137.43,81.74 L137.73,81.29 L138.02,80.86 L138.32,80.42 L138.62,79.99 L138.91,79.56 L139.21,79.13 L139.51,78.71 L139.80,78.29 L140.10,77.88 L140.40,77.47 L140.69,77.06 L140.99,76.66 L141.29,76.25 L141.58,75.86 L141.88,75.46 L142.18,75.07 L142.47,74.68 L142.77,74.30 L143.07,73.92 L143.36,73.54 L143.66,73.17 L143.96,72.80 L144.25,72.44 L144.55,72.07 L144.85,71.71 L145.14,71.36 L145.44,71.01 L145.74,70.66 L146.03,70.32 L146.33,69.98 L146.63,69.64 L146.92,69.30 L147.22,68.97 L147.52,68.65 L147.81,68.33 L148.11,68.01 L148.41,67.69 L148.70,67.38 L149.00,67.07 L149.30,66.77 L149.60,66.47 L149.89,66.17 L150.19,65.88 L150.49,65.59 L150.78,65.30 L151.08,65.02 L151.38,64.75 L151.67,64.47 L151.97,64.20 L152.27,63.93 L152.56,63.67 L152.86,63.41 L153.16,63.16 L153.45,62.91 L153.75,62.66 L154.05,62.41 L154.34,62.17 L154.64,61.94 L154.94,61.71 L155.23,61.48 L155.53,61.25 L155.83,61.03 L156.12,60.82 L156.42,60.60 L156.72,60.39 L157.01,60.19 L157.31,59.99 L157.61,59.79 L157.90,59.60 L158.20,59.41 L158.50,59.22 L158.79,59.04 L159.09,58.86 L159.39,58.69 L159.68,58.52 L159.98,58.35 L160.28,58.19 L160.57,58.03 L160.87,57.87 L161.17,57.72 L161.46,57.58 L161.76,57.43 L162.06,57.30 L162.35,57.16 L162.65,57.03 L162.95,56.90 L163.24,56.78 L163.54,56.66 L163.84,56.55 L164.13,56.43 L164.43,56.33 L164.73,56.22 L165.02,56.13 L165.32,56.03 L165.62,55.94 L165.91,55.85 L166.21,55.77 L166.51,55.69 L166.80,55.61 L167.10,55.54 L167.40,55.48 L167.69,55.41 L167.99,55.35 L168.29,55.30 L168.58,55.25 L168.88,55.20 L169.18,55.16 L169.47,55.12 L169.77,55.08 L170.07,55.05 L170.36,55.02 L170.66,55.00 L170.96,54.98 L171.25,54.97 L171.55,54.96 L171.85,54.95 L172.14,54.94 L172.44,54.95 L172.74,54.95 L173.03,54.96 L173.33,54.97 L173.63,54.99 L173.92,55.01 L174.22,55.03 L174.52,55.06 L174.81,55.10 L175.11,55.13 L175.41,55.17 L175.70,55.22 L176.00,55.27 L176.30,55.32 L176.59,55.38 L176.89,55.44 L177.19,55.50 L177.48,55.57 L177.78,55.65 L178.08,55.72 L178.37,55.80 L178.67,55.89 L178.97,55.98 L179.26,56.07 L179.56,56.17 L179.86,56.27 L180.15,56.37 L180.45,56.48 L180.75,56.59 L181.04,56.71 L181.34,56.83 L181.64,56.96 L181.93,57.08 L182.23,57.22 L182.53,57.35 L182.82,57.49 L183.12,57.64 L183.42,57.79 L183.72,57.94 L184.01,58.09 L184.31,58.25 L184.61,58.42 L184.90,58.59 L185.20,58.76 L185.50,58.93 L185.79,59.11 L186.09,59.30 L186.39,59.49 L186.68,59.68 L186.98,59.87 L187.28,60.07 L187.57,60.27 L187.87,60.48 L188.17,60.69 L188.46,60.91 L188.76,61.12 L189.06,61.35 L189.35,61.57 L189.65,61.80 L189.95,62.04 L190.24,62.28 L190.54,62.52 L190.84,62.76 L191.13,63.01 L191.43,63.26 L191.73,63.52 L192.02,63.78 L192.32,64.05 L192.62,64.31 L192.91,64.59 L193.21,64.86 L193.51,65.14 L193.80,65.42 L194.10,65.71 L194.40,66.00 L194.69,66.30 L194.99,66.59 L195.29,66.90 L195.58,67.20 L195.88,67.51 L196.18,67.82 L196.47,68.14 L196.77,68.46 L197.07,68.79 L197.36,69.11 L197.66,69.44 L197.96,69.78 L198.25,70.12 L198.55,70.46 L198.85,70.81 L199.14,71.16 L199.44,71.51 L199.74,71.87 L200.03,72.23 L200.33,72.59 L200.63,72.96 L200.92,73.33 L201.22,73.70 L201.52,74.08 L201.81,74.46 L202.11,74.85 L202.41,75.24 L202.70,75.63 L203.00,76.02 L203.30,76.42 L203.59,76.83 L203.89,77.23 L204.19,77.64 L204.48,78.05 L204.78,78.47 L205.08,78.89 L205.37,79.31 L205.67,79.74 L205.97,80.17 L206.26,80.60 L206.56,81.04 L206.86,81.48 L207.15,81.92 L207.45,82.37 L207.75,82.82 L208.04,83.27 L208.34,83.73 L208.64,84.19 L208.93,84.65 L209.23,85.12 M322.27,346.61 L322.57,347.07 L322.87,347.52 L323.16,347.98 L323.46,348.43 L323.76,348.88 L324.05,349.32 L324.35,349.76 L324.65,350.20 L324.94,350.63 L325.24,351.06 L325.54,351.49 L325.83,351.92 L326.13,352.34 L326.43,352.75 L326.72,353.17 L327.02,353.58 L327.32,353.98 L327.61,354.39 L327.91,354.79 L328.21,355.18 L328.50,355.58 L328.80,355.97 L329.10,356.35 L329.39,356.73 L329.69,357.11 L329.99,357.49 L330.28,357.86 L330.58,358.23 L330.88,358.59 L331.17,358.95 L331.47,359.31 L331.77,359.67 L332.06,360.02 L332.36,360.36 L332.66,360.71 L332.95,361.05 L333.25,361.38 L333.55,361.71 L333.84,362.04 L334.14,362.37 L334.44,362.69 L334.73,363.01 L335.03,363.32 L335.33,363.63 L335.62,363.94 L335.92,364.24 L336.22,364.54 L336.51,364.83 L336.81,365.12 L337.11,365.41 L337.40,365.70 L337.70,365.98 L338.00,366.25 L338.29,366.53 L338.59,366.79 L338.89,367.06 L339.18,367.32 L339.48,367.58 L339.78,367.83 L340.07,368.08 L340.37,368.33 L340.67,368.57 L340.96,368.81 L341.26,369.04 L341.56,369.28 L341.85,369.50 L342.15,369.73 L342.45,369.95 L342.74,370.16 L343.04,370.37 L343.34,370.58 L343.63,370.78 L343.93,370.98 L344.23,371.18 L344.52,371.37 L344.82,371.56 L345.12,371.75 L345.41,371.93 L345.71,372.10 L346.01,372.28 L346.30,372.44 L346.60,372.61 L346.90,372.77 L347.19,372.93 L347.49,373.08 L347.79,373.23 L348.08,373.37 L348.38,373.52 L348.68,373.65 L348.97,373.79 L349.27,373.92 L349.57,374.04 L349.86,374.16 L350.16,374.28 L350.46,374.39 L350.75,374.50 L351.05,374.61 L351.35,374.71 L351.65,374.81 L351.94,374.90 L352.24,374.99 L352.54,375.08 L352.83,375.16 L353.13,375.24 L353.43,375.31 L353.72,375.38 L354.02,375.45 L354.32,375.51 L354.61,375.57 L354.91,375.62 L355.21,375.67 L355.50,375.72 L355.80,375.76 L356.10,375.80 L356.39,375.83 L356.69,375.86 L356.99,375.88 L357.28,375.91 L357.58,375.92 L357.88,375.94 L358.17,375.95 L358.47,375.95 L358.77,375.96 L359.06,375.95 L359.36,375.95 L359.66,375.94 L359.95,375.92 L360.25,375.90 L360.55,375.88 L360.84,375.86 L361.14,375.83 L361.44,375.79 L361.73,375.75 L362.03,375.71 L362.33,375.66 L362.62,375.61 L362.92,375.56 L363.22,375.50 L363.51,375.44 L363.81,375.37 L364.11,375.30 L364.40,375.23 L364.70,375.15 L365.00,375.07 L365.29,374.98 L365.59,374.89 L365.89,374.80 L366.18,374.70 L366.48,374.60 L366.78,374.49 L367.07,374.38 L367.37,374.27 L367.67,374.15 L367.96,374.03 L368.26,373.90 L368.56,373.77 L368.85,373.64 L369.15,373.50 L369.45,373.36 L369.74,373.21 L370.04,373.06 L370.34,372.91 L370.63,372.75 L370.93,372.59 L371.23,372.42 L371.52,372.25 L371.82,372.08 L372.12,371.90 L372.41,371.72 L372.71,371.54 L373.01,371.35 L373.30,371.15 L373.60,370.96 L373.90,370.76 L374.19,370.55 L374.49,370.34 L374.79,370.13 L375.08,369.92 L375.38,369.70 L375.68,369.47 L375.97,369.25 L376.27,369.01 L376.57,368.78 L376.86,368.54 L377.16,368.30 L377.46,368.05 L377.75,367.80 L378.05,367.54 L378.35,367.29 L378.64,367.02 L378.94,366.76 L379.24,366.49 L379.53,366.22 L379.83,365.94 L380.13,365.66 L380.42,365.37 L380.72,365.09 L381.02,364.79 L381.31,364.50 L381.61,364.20 L381.91,363.90 L382.20,363.59 L382.50,363.28 L382.80,362.96 L383.09,362.65 L383.39,362.32 L383.69,362.00 L383.98,361.67 L384.28,361.34 L384.58,361.00 L384.88,360.66 L385.17,360.32 L385.47,359.97 L385.77,359.62 L386.06,359.26 L386.36,358.91 L386.66,358.55 L386.95,358.18 L387.25,357.81 L387.55,357.44 L387.84,357.06 L388.14,356.68 L388.44,356.30 L388.73,355.92 L389.03,355.53 L389.33,355.13 L389.62,354.73 L389.92,354.33 L390.22,353.93 L390.51,353.52 L390.81,353.11 L391.11,352.70 L391.40,352.28 L391.70,351.86 L392.00,351.44 L392.29,351.01 L392.59,350.58 L392.89,350.14 L393.18,349.70 L393.48,349.26 L393.78,348.82 L394.07,348.37 L394.37,347.92 L394.67,347.46 L394.96,347.01 L395.26,346.55 L395.56,346.08 M508.60,84.59 L508.89,84.13 L509.19,83.67 L509.49,83.21 L509.78,82.76 L510.08,82.31 L510.38,81.86 L510.67,81.42 L510.97,80.98 L511.27,80.55 L511.56,80.11 L511.86,79.68 L512.16,79.26 L512.45,78.83 L512.75,78.41 L513.05,78.00 L513.34,77.59 L513.64,77.18 L513.94,76.77 L514.23,76.37 L514.53,75.97 L514.83,75.58 L515.12,75.18 L515.42,74.80 L515.72,74.41 L516.01,74.03 L516.31,73.65 L516.61,73.28 L516.90,72.91 L517.20,72.54 L517.50,72.18 L517.79,71.82 L518.09,71.46 L518.39,71.11 L518.68,70.76 L518.98,70.41 L519.28,70.07 L519.58,69.73 L519.87,69.40 L520.17,69.07 L520.47,68.74 L520.76,68.42 L521.06,68.10 L521.36,67.78 L521.65,67.47 L521.95,67.16 L522.25,66.86 L522.54,66.56 L522.84,66.26 L523.14,65.96 L523.43,65.67 L523.73,65.39 L524.03,65.10 L524.32,64.83 L524.62,64.55 L524.92,64.28 L525.21,64.01 L525.51,63.75 L525.81,63.49 L526.10,63.23 L526.40,62.98 L526.70,62.73 L526.99,62.48 L527.29,62.24 L527.59,62.01 L527.88,61.77 L528.18,61.54 L528.48,61.32 L528.77,61.10 L529.07,60.88 L529.37,60.66 L529.66,60.45 L529.96,60.25 L530.26,60.04 L530.55,59.85 L530.85,59.65 L531.15,59.46 L531.44,59.27 L531.74,59.09 L532.04,58.91 L532.33,58.74 L532.63,58.56 L532.93,58.40 L533.22,58.23 L533.52,58.07 L533.82,57.92 L534.11,57.77 L534.41,57.62 L534.71,57.47 L535.00,57.33 L535.30,57.20 L535.60,57.07 L535.89,56.94 L536.19,56.81 L536.49,56.69 L536.78,56.58 L537.08,56.47 L537.38,56.36 L537.67,56.25 L537.97,56.15 L538.27,56.06 L538.56,55.97 L538.86,55.88 L539.16,55.79 L539.45,55.71 L539.75,55.64 L540.05,55.56 L540.34,55.50 L540.64,55.43 L540.94,55.37 L541.23,55.31 L541.53,55.26 L541.83,55.21 L542.12,55.17 L542.42,55.13 L542.72,55.09 L543.01,55.06 L543.31,55.03 L543.61,55.01 L543.90,54.99 L544.20,54.97 L544.50,54.96 L544.79,54.95 L545.09,54.95 L545.39,54.94 L545.68,54.95 L545.98,54.96 L546.28,54.97 L546.57,54.98 L546.87,55.00 L547.17,55.03 L547.46,55.05 L547.76,55.09 L548.06,55.12 L548.35,55.16 L548.65,55.21 L548.95,55.25 L549.24,55.31 L549.54,55.36 L549.84,55.42 L550.13,55.48 L550.43,55.55 L550.73,55.62 L551.02,55.70 L551.32,55.78 L551.62,55.86 L551.91,55.95 L552.21,56.04 L552.51,56.14 L552.81,56.24 L553.10,56.34 L553.40,56.45 L553.70,56.56 L553.99,56.68 L554.29,56.80 L554.59,56.92 L554.88,57.05 L555.18,57.18 L555.48,57.31 L555.77,57.45 L556.07,57.60 L556.37,57.74 L556.66,57.89 L556.96,58.05 L557.26,58.21 L557.55,58.37 L557.85,58.54 L558.15,58.71 L558.44,58.88 L558.74,59.06 L559.04,59.24 L559.33,59.43 L559.63,59.62 L559.93,59.82 L560.22,60.01 L560.52,60.21 L560.82,60.42 L561.11,60.63 L561.41,60.84 L561.71,61.06 L562.00,61.28 L562.30,61.51 L562.60,61.74 L562.89,61.97 L563.19,62.21 L563.49,62.45 L563.78,62.69 L564.08,62.94 L564.38,63.19 L564.67,63.45 L564.97,63.71 L565.27,63.97 L565.56,64.24 L565.86,64.51 L566.16,64.78 L566.45,65.06 L566.75,65.34 L567.05,65.63 L567.34,65.92 L567.64,66.21 L567.94,66.51 L568.23,66.81 L568.53,67.11 L568.83,67.42 L569.12,67.73 L569.42,68.05 L569.72,68.37 L570.01,68.69 L570.31,69.02 L570.61,69.35 L570.90,69.68 L571.20,70.02 L571.50,70.36 L571.79,70.71 L572.09,71.05 L572.39,71.41 L572.68,71.76 L572.98,72.12 L573.28,72.48 L573.57,72.85 L573.87,73.22 L574.17,73.59 L574.46,73.97 L574.76,74.35 L575.06,74.74 L575.35,75.12 L575.65,75.51 L575.95,75.91 L576.24,76.31 L576.54,76.71 L576.84,77.11 L577.13,77.52 L577.43,77.93 L577.73,78.35 L578.02,78.77 L578.32,79.19 L578.62,79.62 L578.91,80.05 L579.21,80.48 L579.51,80.91 L579.80,81.35 L580.10,81.79 L580.40,82.24 L580.69,82.69 L580.99,83.14 L581.29,83.60 L581.58,84.06 L581.88,84.52 L582.18,84.98" stroke="#ff0010" stroke-width="3.0" stroke-dasharray="3.1 1.0"/>
</g>
<!-- inset -->
<rect x="277.8" y="26.3" width="175.0" height="108.3" fill="#fff"/>
<g fill="none" stroke="#2b2b2b" stroke-width="1.75">
<rect x="277.8" y="26.3" width="175.0" height="108.3"/>
<path d="M365.30,134.6 V132.4 M365.30,26.3 V28.5"/><path d="M277.8,85.40 H280.0 M452.8,85.40 H450.6"/><path d="M277.8,36.20 H280.0 M452.8,36.20 H450.6"/>
</g>
<g fill="none" clip-path="url(#ci)">
<path d="M274.30,101.69 L276.05,99.51 L277.80,97.36 L279.55,95.24 L281.30,93.15 L283.05,91.10 L284.80,89.08 L286.55,87.10 L288.30,85.15 L290.05,83.24 L291.80,81.36 L293.55,79.51 L295.30,77.71 L297.05,75.93 L298.80,74.19 L300.55,72.49 L302.30,70.82 L304.05,69.19 L305.80,67.59 L307.55,66.03 L309.30,64.51 L311.05,63.02 L312.80,61.57 L314.55,60.16 L316.30,58.78 L318.05,57.45 L319.80,56.14 L321.55,54.88 L323.30,53.65 L325.05,52.46 L326.80,51.31 L328.55,50.20 L330.30,49.12 L332.05,48.08 L333.80,47.08 L335.55,46.12 L337.30,45.20 L339.05,44.32 L340.80,43.47 L342.55,42.66 L344.30,41.89 L346.05,41.16 L347.80,40.47 L349.55,39.82 L351.30,39.21 L353.05,38.63 L354.80,38.10 L356.55,37.60 L358.30,37.15 L360.05,36.73 L361.80,36.35 L363.55,36.01 L365.30,35.71 L367.05,35.45 L368.80,35.23 L370.55,35.05 L372.30,34.91 L374.05,34.81 L375.80,34.75 L377.55,34.72 L379.30,34.74 L381.05,34.80 L382.80,34.89 L384.55,35.03 L386.30,35.20 L388.05,35.42 L389.80,35.67 L391.55,35.96 L393.30,36.29 L395.05,36.67 L396.80,37.08 L398.55,37.53 L400.30,38.02 L402.05,38.55 L403.80,39.11 L405.55,39.72 L407.30,40.37 L409.05,41.05 L410.80,41.77 L412.55,42.54 L414.30,43.34 L416.05,44.18 L417.80,45.06 L419.55,45.97 L421.30,46.93 L423.05,47.92 L424.80,48.95 L426.55,50.02 L428.30,51.13 L430.05,52.28 L431.80,53.46 L433.55,54.68 L435.30,55.94 L437.05,57.24 L438.80,58.57 L440.55,59.94 L442.30,61.35 L444.05,62.79 L445.80,64.27 L447.55,65.79 L449.30,67.34 L451.05,68.93 L452.80,70.56 L454.55,72.22 L456.30,73.92" stroke="#000" stroke-width="3.4"/>
<path d="M274.30,111.06 L276.05,108.95 L277.80,106.88 L279.55,104.84 L281.30,102.83 L283.05,100.86 L284.80,98.92 L286.55,97.01 L288.30,95.14 L290.05,93.30 L291.80,91.49 L293.55,89.72 L295.30,87.98 L297.05,86.27 L298.80,84.60 L300.55,82.96 L302.30,81.36 L304.05,79.79 L305.80,78.26 L307.55,76.76 L309.30,75.30 L311.05,73.88 L312.80,72.49 L314.55,71.13 L316.30,69.81 L318.05,68.53 L319.80,67.28 L321.55,66.07 L323.30,64.90 L325.05,63.76 L326.80,62.66 L328.55,61.59 L330.30,60.57 L332.05,59.58 L333.80,58.62 L335.55,57.71 L337.30,56.83 L339.05,55.98 L340.80,55.18 L342.55,54.41 L344.30,53.68 L346.05,52.99 L347.80,52.34 L349.55,51.72 L351.30,51.14 L353.05,50.60 L354.80,50.10 L356.55,49.63 L358.30,49.20 L360.05,48.82 L361.80,48.46 L363.55,48.15 L365.30,47.88 L367.05,47.64 L368.80,47.44 L370.55,47.28 L372.30,47.16 L374.05,47.08 L375.80,47.03 L377.55,47.03 L379.30,47.06 L381.05,47.13 L382.80,47.23 L384.55,47.38 L386.30,47.57 L388.05,47.79 L389.80,48.05 L391.55,48.35 L393.30,48.69 L395.05,49.06 L396.80,49.47 L398.55,49.93 L400.30,50.41 L402.05,50.94 L403.80,51.51 L405.55,52.11 L407.30,52.75 L409.05,53.43 L410.80,54.15 L412.55,54.90 L414.30,55.69 L416.05,56.52 L417.80,57.39 L419.55,58.29 L421.30,59.23 L423.05,60.21 L424.80,61.22 L426.55,62.27 L428.30,63.36 L430.05,64.48 L431.80,65.65 L433.55,66.84 L435.30,68.08 L437.05,69.35 L438.80,70.65 L440.55,71.99 L442.30,73.37 L444.05,74.79 L445.80,76.24 L447.55,77.72 L449.30,79.24 L451.05,80.79 L452.80,82.38 L454.55,84.01 L456.30,85.67" stroke="#58d110" stroke-width="3.2" stroke-dasharray="12.5 11.6" stroke-dashoffset="21"/>
<path d="M274.30,120.24 L275.25,119.00 L276.20,117.78 L277.15,116.56 L278.10,115.35 L279.05,114.15 L279.99,112.97 L280.94,111.79 L281.89,110.62 L282.84,109.46 L283.79,108.31 L284.74,107.16 L285.69,106.03 L286.64,104.91 L287.59,103.80 L288.54,102.69 L289.49,101.60 L290.44,100.51 L291.38,99.44 L292.33,98.38 L293.28,97.32 L294.23,96.28 L295.18,95.24 L296.13,94.21 L297.08,93.20 L298.03,92.19 L298.98,91.20 L299.93,90.21 L300.88,89.24 L301.83,88.27 L302.77,87.31 L303.72,86.37 L304.67,85.43 L305.62,84.51 L306.57,83.59 L307.52,82.69 L308.47,81.79 L309.42,80.91 L310.37,80.03 L311.32,79.17 L312.27,78.31 L313.22,77.47 L314.16,76.64 L315.11,75.81 L316.06,75.00 L317.01,74.20 L317.96,73.41 L318.91,72.63 L319.86,71.86 L320.81,71.10 L321.76,70.35 L322.71,69.61 L323.66,68.88 L324.61,68.16 L325.55,67.46 L326.50,66.76 L327.45,66.07 L328.40,65.40 L329.35,64.74 L330.30,64.08" stroke="#ff0010" stroke-width="4.2" stroke-dasharray="5 0.3"/>
<path d="M330.30,64.08 L330.74,63.78 L331.19,63.48 L331.63,63.18 L332.08,62.89 L332.52,62.59 L332.97,62.30 L333.41,62.01 L333.86,61.73 L334.30,61.44 L334.75,61.16 L335.19,60.88 L335.64,60.61 L336.08,60.33 L336.53,60.06 L336.97,59.79 L337.42,59.53 L337.86,59.26 L338.31,59.00 L338.75,58.74 L339.20,58.48 L339.64,58.23 L340.09,57.97 L340.53,57.72 L340.98,57.48 L341.42,57.23 L341.87,56.99 L342.31,56.75 L342.76,56.51 L343.20,56.27 L343.65,56.04 L344.09,55.81 L344.54,55.58 L344.98,55.35 L345.43,55.13 L345.87,54.91 L346.32,54.69 L346.76,54.48 L347.21,54.26 L347.65,54.05 L348.10,53.84 L348.54,53.63 L348.99,53.43 L349.43,53.23 L349.88,53.03 L350.32,52.83 L350.77,52.64 L351.21,52.45 L351.66,52.26 L352.10,52.07 L352.55,51.88 L352.99,51.70 L353.44,51.52 L353.88,51.34 L354.33,51.17 L354.77,51.00 L355.22,50.83 L355.66,50.66 L356.11,50.49 L356.55,50.33" stroke="#ff0010" stroke-width="3.9" stroke-dasharray="4 0.4"/>
<path d="M356.55,50.33 L357.65,49.94 L358.74,49.57 L359.84,49.20 L360.94,48.86 L362.04,48.53 L363.13,48.21 L364.23,47.91 L365.33,47.63 L366.43,47.35 L367.52,47.10 L368.62,46.86 L369.72,46.63 L370.82,46.42 L371.91,46.23 L373.01,46.05 L374.11,45.88 L375.21,45.73 L376.30,45.59 L377.40,45.47 L378.50,45.37 L379.60,45.28 L380.69,45.20 L381.79,45.15 L382.89,45.10 L383.99,45.07 L385.08,45.06 L386.18,45.06 L387.28,45.07 L388.38,45.11 L389.47,45.15 L390.57,45.21 L391.67,45.29 L392.77,45.38 L393.86,45.49 L394.96,45.61 L396.06,45.75 L397.16,45.90 L398.25,46.07 L399.35,46.25 L400.45,46.45 L401.55,46.66 L402.64,46.89 L403.74,47.13 L404.84,47.39 L405.94,47.66 L407.03,47.95 L408.13,48.25 L409.23,48.57 L410.33,48.90 L411.42,49.25 L412.52,49.61 L413.62,49.99 L414.72,50.38 L415.81,50.79 L416.91,51.21 L418.01,51.65 L419.11,52.10 L420.20,52.57 L421.30,53.05" stroke="#ff0010" stroke-width="3.1" stroke-dasharray="3.1 1.0"/>
<path d="M421.30,53.05 L421.89,53.32 L422.49,53.59 L423.08,53.86 L423.67,54.14 L424.27,54.43 L424.86,54.71 L425.45,55.01 L426.05,55.30 L426.64,55.61 L427.23,55.91 L427.83,56.22 L428.42,56.53 L429.01,56.85 L429.61,57.18 L430.20,57.50 L430.79,57.83 L431.38,58.17 L431.98,58.51 L432.57,58.85 L433.16,59.20 L433.76,59.55 L434.35,59.91 L434.94,60.27 L435.54,60.64 L436.13,61.01 L436.72,61.38 L437.32,61.76 L437.91,62.14 L438.50,62.53 L439.10,62.92 L439.69,63.31 L440.28,63.71 L440.88,64.11 L441.47,64.52 L442.06,64.93 L442.66,65.35 L443.25,65.77 L443.84,66.19 L444.44,66.62 L445.03,67.05 L445.62,67.49 L446.22,67.93 L446.81,68.38 L447.40,68.83 L447.99,69.28 L448.59,69.74 L449.18,70.20 L449.77,70.67 L450.37,71.14 L450.96,71.61 L451.55,72.09 L452.15,72.57 L452.74,73.06 L453.33,73.55 L453.93,74.04 L454.52,74.54 L455.11,75.04 L455.71,75.55 L456.30,76.06" stroke="#ff0010" stroke-width="3.9" stroke-dasharray="4 0.4"/>
</g>
<!-- zoom rectangle + arrow -->
<rect x="124" y="29.4" width="61" height="53.9" fill="none" stroke="#000" stroke-width="1.9"/>
<path d="M185,41.5 H246" stroke="#000" stroke-width="1.9" fill="none"/>
<path d="M256,41.5 L237.7,34.8 L244.2,41.5 L237.7,48.2 Z" fill="#000"/>
<!-- legend -->
<rect x="90.5" y="297.2" width="189.2" height="112.5" fill="#fff" stroke="#2b2b2b" stroke-width="1.75"/>
<g fill="none">
<path d="M97,317.4 H147.2" stroke="#000" stroke-width="3.3"/>
<path d="M96.9,353.4 H147.2" stroke="#58d110" stroke-width="3.2" stroke-dasharray="12.5 11.6"/>
<path d="M96.9,389.6 H147.2" stroke="#ff0010" stroke-width="3.2" stroke-dasharray="3.1 2.92"/>
</g>
<g class="serif" font-size="30" fill="#000">
<text x="150.4" y="328.7">Reference</text>
<text x="150.4" y="365">LPV</text>
<text x="150.4" y="401.3">MPC</text>
</g>
<!-- main tick labels -->
<g class="serif" font-size="34.3" fill="#000">
<text x="76.3" y="462.1" text-anchor="middle">0</text><text x="195.0" y="462.1" text-anchor="middle">2</text><text x="313.8" y="462.1" text-anchor="middle">4</text><text x="432.5" y="462.1" text-anchor="middle">6</text><text x="551.3" y="462.1" text-anchor="middle">8</text><text x="670.0" y="462.1" text-anchor="middle">10</text>
<text x="65.6" y="22.1" text-anchor="end">5</text>
<text x="66" y="227.6" text-anchor="end">0</text>
<text x="65.6" y="433.5" text-anchor="end">-5</text>
</g>
<!-- axis labels -->
<g class="serif" font-size="36.7" fill="#000">
<text x="373.2" y="503.1" text-anchor="middle">Time(s)</text>
<text transform="translate(25.8,215.4) rotate(-90)" text-anchor="middle">Steering performance(°)</text>
</g>
<!-- inset tick labels -->
<g class="sans" font-size="26" fill="#000">
<text x="268" y="46.5" text-anchor="end">4</text>
<text x="268" y="96.5" text-anchor="end">3.5</text>
<text x="268" y="145.1" text-anchor="end">3</text>
<text x="361.69" y="170.4">.5</text>
<text x="452.8" y="170.4" text-anchor="middle">2</text>
</g>
<g fill="#000">
<path transform="translate(270.57,170.4) scale(0.012695,-0.012695)" d="M763 0H583V1147Q518 1085 412.5 1023Q307 961 223 930V1104Q374 1175 487 1276Q600 1377 647 1472H763Z"/>
<path transform="translate(347.23,170.4) scale(0.012695,-0.012695)" d="M763 0H583V1147Q518 1085 412.5 1023Q307 961 223 930V1104Q374 1175 487 1276Q600 1377 647 1472H763Z"/>
</g>
</svg>
</body></html>
